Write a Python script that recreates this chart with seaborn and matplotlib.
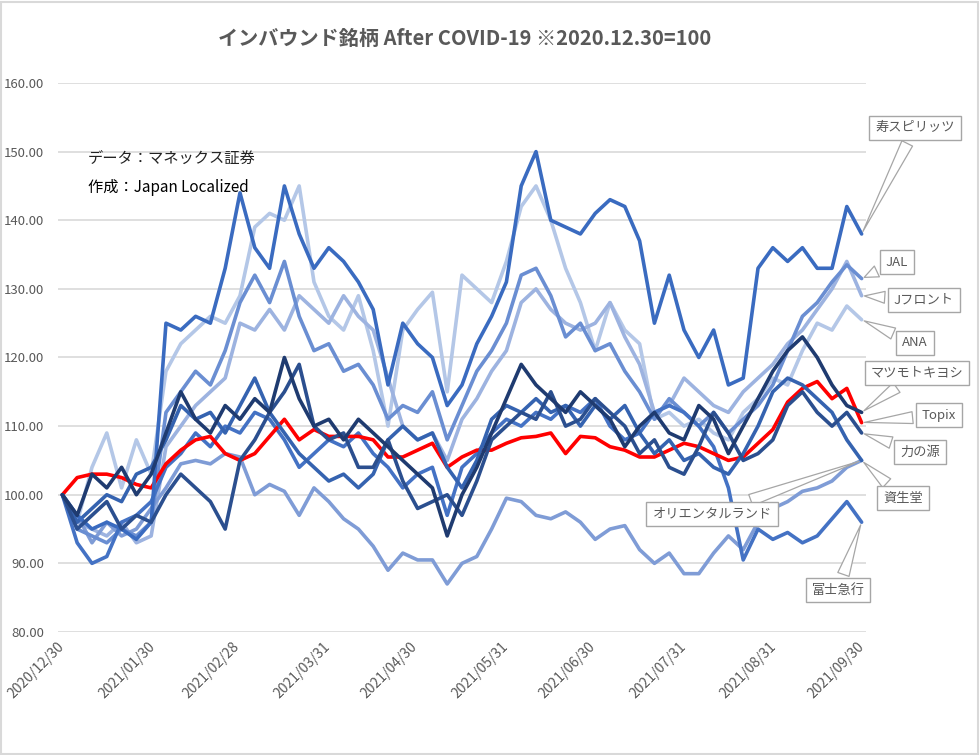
import pandas as pd
import matplotlib
matplotlib.use('Agg')
import matplotlib.pyplot as plt
from matplotlib.ticker import FormatStrFormatter
from matplotlib.patches import Rectangle
import seaborn as sns

# 2020/12/30 = 100 at ~5 day steps
start_date = '2020-12-30'
end_date = '2021-09-30'
n_points = 55

kotobuki = [100, 97, 95, 96, 95, 93.5, 96, 125, 124, 126, 125, 133, 144, 136, 133, 145, 138, 133, 136, 134,
            131, 127, 116, 125, 122, 120, 113, 116, 122, 126, 131, 145, 150, 140, 139, 138, 141, 143, 142, 137,
            125, 132, 124, 120, 124, 116, 117, 133, 136, 134, 136, 133, 133, 142, 138]
jal = [100, 95, 94, 93, 95, 94, 96, 112, 115, 118, 116, 121, 128, 132, 128, 134, 126, 121, 122, 118,
       119, 116, 111, 113, 112, 115, 108, 113, 118, 121, 125, 132, 133, 129, 123, 125, 121, 122, 118, 115,
       111, 114, 112, 110, 112, 109, 111, 113, 116, 121, 126, 128, 131, 133.5, 131.5]
jfront = [100, 96, 95, 94, 96, 93, 94, 107, 110, 113, 115, 117, 125, 124, 127, 124, 129, 127, 125, 129,
          126, 124, 117, 110, 108, 109, 105, 111, 114, 118, 121, 128, 130, 127, 125, 124, 125, 128, 123, 119,
          112, 113, 117, 115, 113, 112, 115, 117, 119, 122, 124, 127, 130, 134, 129]
ana = [100, 96, 104, 109, 101, 108, 103, 118, 122, 124, 126, 125, 129, 139, 141, 140, 145, 131, 126, 124,
       129, 121, 110, 124, 127, 129.5, 115, 132, 130, 128, 134, 142, 145, 140, 133, 128, 121, 128, 124, 122,
       111, 112, 110, 111, 109, 108, 112, 114, 117, 116, 121, 125, 124, 127.5, 125.5]
matsukiyo = [100, 97, 103, 101, 104, 100, 103, 109, 115, 111, 109, 113, 111, 114, 112, 120, 114, 110, 111, 108,
             111, 109, 107, 105, 103, 101, 94, 100, 104, 109, 114, 119, 116, 114, 112, 115, 113, 111, 107, 110,
             112, 109, 108, 113, 111, 106, 110, 114, 118, 121, 123, 120, 116, 113, 112]
topix = [100, 102.5, 103, 103, 102.5, 101.5, 101, 104.5, 106.5, 108, 108.5, 106, 105, 106, 108.5, 111, 108, 109.5, 108.5, 108.5,
         108.5, 108, 105.5, 105.5, 106.5, 107.5, 104, 105.5, 106.5, 106.5, 107.5, 108.3, 108.5, 109, 106, 108.5, 108.3, 107, 106.5, 105.5,
         105.5, 106.5, 107.5, 107, 106, 105, 105.5, 107.5, 109.5, 113.5, 115.5, 116.5, 114, 115.5, 110.5]
chikara = [100, 95, 97, 99, 95, 97, 96, 100, 103, 101, 99, 95, 105, 108, 112, 115, 119, 110, 108, 109,
           104, 104, 108, 102, 98, 99, 100, 97, 102, 108, 110, 112, 111, 115, 110, 111, 114, 112, 110, 106,
           108, 104, 103, 107, 112, 109, 105, 106, 108, 113, 115, 112, 110, 112, 109]
shiseido = [100, 96, 98, 100, 99, 103, 104, 108, 113, 111, 112, 109, 113, 117, 112, 109, 106, 104, 102, 103,
            101, 103, 108, 110, 108, 109, 104, 101, 105, 111, 113, 112, 114, 112, 113, 110, 113, 111, 113, 109,
            106, 108, 105, 106, 104, 103, 106, 110, 115, 117, 116, 114, 112, 108, 105]
olc = [100, 97, 93, 96, 94, 95, 98, 101, 104.5, 105, 104.5, 106, 105.5, 100, 101.5, 100.5, 97, 101, 99, 96.5,
       95, 92.5, 89, 91.5, 90.5, 90.5, 87, 90, 91, 95, 99.5, 99, 97, 96.5, 97.5, 96, 93.5, 95, 95.5, 92,
       90, 91.5, 88.5, 88.5, 91.5, 94, 92, 96, 98, 99, 100.5, 101, 102, 104, 105]
fujikyu = [100, 93, 90, 91, 96, 97, 99, 104, 106, 109, 107, 110, 109, 112, 111, 108, 104, 106, 108, 107,
           109, 106, 104, 101, 103, 104, 97, 104, 106, 109, 111, 110, 112, 111, 113, 112, 114, 110, 108, 109,
           112, 113, 112, 110, 107, 101, 90.5, 95, 93.5, 94.5, 93, 94, 96.5, 99, 96]

tick_dates = ['2020-12-30', '2021-01-30', '2021-02-28', '2021-03-31', '2021-04-30',
              '2021-05-31', '2021-06-30', '2021-07-31', '2021-08-31', '2021-09-30']

series = {
    'ANA': ana,
    'Jフロント': jfront,
    'オリエンタルランド': olc,
    'JAL': jal,
    '富士急行': fujikyu,
    'Topix': topix,
    '資生堂': shiseido,
    '寿スピリッツ': kotobuki,
    '力の源': chikara,
    'マツモトキヨシ': matsukiyo,
}
colors = {
    'ANA': '#B4C7E7',
    'Jフロント': '#9DB3E0',
    'オリエンタルランド': '#7F9CD6',
    'JAL': '#6A8ED2',
    '富士急行': '#4472C4',
    'Topix': '#FF0000',
    '資生堂': '#3563B0',
    '寿スピリッツ': '#3A6BC0',
    '力の源': '#2B4F8F',
    'マツモトキヨシ': '#1F3B70',
}

dates = pd.date_range(start_date, end_date, periods=n_points)
df = pd.DataFrame(series, index=dates)
df.index.name = 'date'
long_df = df.reset_index().melt(id_vars='date', var_name='name', value_name='value')

sns.set_style('white')
plt.rcParams['font.family'] = ['Noto Sans CJK JP', 'DejaVu Sans']
plt.rcParams['lines.solid_joinstyle'] = 'round'

W, H = 980, 755
fig = plt.figure(figsize=(W / 100, H / 100), dpi=100)
ax = fig.add_axes([58 / W, 1 - 632 / H, (866 - 58) / W, (632 - 83) / H])

sns.lineplot(data=long_df, x='date', y='value', hue='name', hue_order=list(series.keys()),
             palette=colors, linewidth=2.6, legend=False, ax=ax)

ax.set_ylim(80, 160)
ax.set_xlim(pd.Timestamp(start_date) - pd.Timedelta(days=1.5), pd.Timestamp(end_date) + pd.Timedelta(days=1.5))
ax.set_yticks(range(80, 161, 10))
ax.yaxis.set_major_formatter(FormatStrFormatter('%.2f'))
ax.set_xticks(pd.to_datetime(tick_dates))
ax.set_xticklabels([d.replace('-', '/') for d in tick_dates], rotation=45, ha='right',
                   va='center', rotation_mode='anchor')
ax.tick_params(axis='both', length=0, colors='#595959', labelsize=9.5)
ax.tick_params(axis='x', labelsize=10)
ax.tick_params(axis='y', pad=10)
ax.tick_params(axis='x', pad=9)
ax.set_xlabel('')
ax.set_ylabel('')
ax.yaxis.grid(True, color='#D9D9D9', lw=1.2)
ax.xaxis.grid(False)
for s in ax.spines.values():
    s.set_visible(False)

fig.text(465 / W, 1 - 38 / H, 'インバウンド銘柄 After COVID-19 ※2020.12.30=100',
         ha='center', va='center', fontsize=14.5, fontweight='bold', color='#595959')
fig.text(88 / W, 1 - 158 / H, 'データ：マネックス証券', ha='left', va='center', fontsize=11, color='#222222')
fig.text(88 / W, 1 - 188 / H, '作成：Japan Localized', ha='left', va='center', fontsize=11, color='#000000')

# callout boxes (centre in pixels)
callouts = {
    '寿スピリッツ': (915, 128),
    'JAL': (897, 262),
    'Jフロント': (924, 300),
    'ANA': (915, 343),
    'マツモトキヨシ': (917, 373),
    'Topix': (939, 415),
    '力の源': (920, 452),
    '資生堂': (903, 498),
    'オリエンタルランド': (712, 514),
    '富士急行': (838, 590),
}
for name, (px, py) in callouts.items():
    ax.annotate(name, xy=(dates[-1], series[name][-1]), xycoords='data',
                xytext=(px / W, 1 - py / H), textcoords='figure fraction',
                ha='center', va='center', fontsize=9.5, color='#595959',
                annotation_clip=False, zorder=10,
                bbox=dict(boxstyle='square,pad=0.45', fc='white', ec='#A6A6A6', lw=1),
                arrowprops=dict(arrowstyle='wedge,tail_width=0.9,shrink_factor=0.5',
                                fc='white', ec='#A6A6A6', lw=0.9))

fig.patches.append(Rectangle((0.001, 0.001), 0.997, 0.997, transform=fig.transFigure,
                             fill=False, ec='#D9D9D9', lw=1.5))

fig.savefig('out.png', dpi=100)
